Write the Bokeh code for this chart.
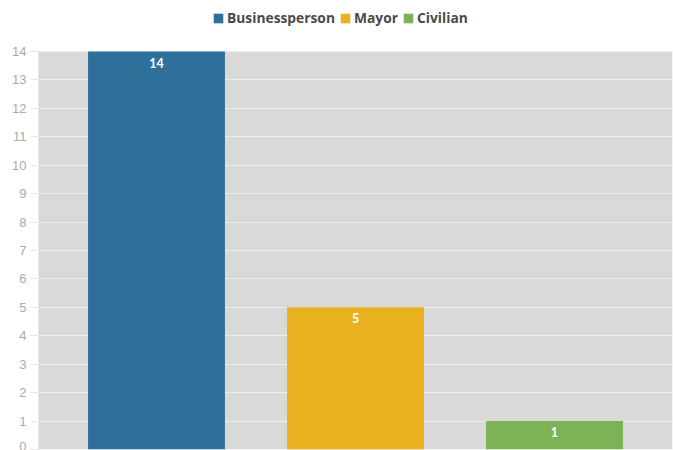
from bokeh.plotting import figure
from bokeh.models import FactorRange, FixedTicker, Legend, LegendItem, ColumnDataSource, BoxAnnotation
from bokeh.core.properties import value
from bokeh.embed import file_html
from bokeh.resources import INLINE

categories = ["Businessperson", "Mayor", "Civilian"]
counts = [14, 5, 1]
colors = ["#2E7099", "#EAB11E", "#7BB356"]
y_ticks = list(range(0, 15))
y_max = 14

src = ColumnDataSource(dict(cat=categories, val=counts, color=colors,
                            lbl=[str(v) for v in counts]))

# frame covers the whole height; the space above y_max holds the legend
p = figure(width=673, height=450, output_backend="svg", toolbar_location=None,
           x_range=FactorRange(factors=categories, range_padding=0.093, range_padding_units="absolute"),
           y_range=(0, y_max + 51 / (398 / y_max)), min_border_left=38, min_border_right=1,
           min_border_top=0, min_border_bottom=1)

p.background_fill_color = "white"
p.border_fill_color = "white"
p.outline_line_color = None

# grey plotting area from 0 to y_max
p.add_layout(BoxAnnotation(bottom=0, top=y_max, fill_color="#d9d9d9", fill_alpha=1,
                           line_color=None, level="image"))

p.xaxis.visible = False
p.xgrid.grid_line_color = None
p.ygrid.grid_line_color = "#ececec"
p.ygrid.grid_line_width = 1
p.ygrid.ticker = FixedTicker(ticks=y_ticks)

ya = p.yaxis[0]
ya.ticker = FixedTicker(ticks=y_ticks)
ya.bounds = (0, y_max)
ya.axis_line_color = "#e6e6e6"
ya.major_tick_line_color = "#e6e6e6"
ya.major_tick_out = 8
ya.major_tick_in = 0
ya.minor_tick_line_color = None
ya.major_label_standoff = 4
ya.major_label_text_color = "#aaaaaa"
ya.major_label_text_font = "Liberation Sans"
ya.major_label_text_font_size = "13px"

renderers = []
for i, c in enumerate(categories):
    r = p.vbar(x=[categories[i]], top=[counts[i]], width=0.688, bottom=0,
               fill_color=colors[i], line_color=None)
    renderers.append(r)

p.text(x="cat", y="val", text="lbl", source=src, text_color="white",
       text_font=value("Lato"), text_font_style="bold", text_font_size="12.5px",
       text_align="center", text_baseline="middle", y_offset=11)

legend = Legend(items=[LegendItem(label=categories[i], renderers=[renderers[i]]) for i in range(3)],
                orientation="horizontal", location=(174, 422), border_line_color=None,
                background_fill_alpha=0, padding=0, margin=0, spacing=4,
                glyph_width=12, glyph_height=12, label_standoff=3,
                label_text_font="Open Sans", label_text_font_style="bold",
                label_text_font_size="13.8px", label_text_color="#4a4a4a")
p.add_layout(legend)

open("out.html", "w").write(file_html(p, INLINE))
